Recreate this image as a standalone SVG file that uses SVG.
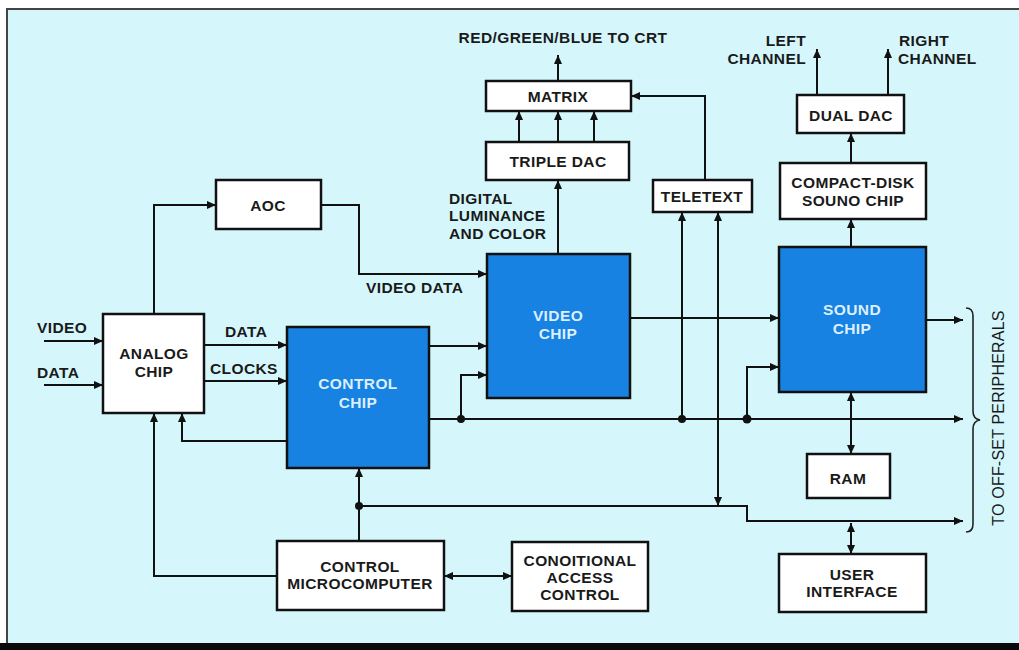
<svg xmlns="http://www.w3.org/2000/svg" width="1019" height="650" viewBox="0 0 1019 650">
<defs>
<marker id="ah" viewBox="0 0 9 8" refX="9" refY="4" markerWidth="9" markerHeight="8" markerUnits="userSpaceOnUse" orient="auto-start-reverse"><path d="M0,0 L9,4 L0,8 z" fill="#111"/></marker>
<style>
.t{font-family:"Liberation Sans",Arial,sans-serif;font-weight:bold;font-size:15.5px;fill:#1a1a1a;letter-spacing:0.4px}
.c{text-anchor:middle}
.w{fill:#dcefff}
.box{fill:#fff;stroke:#111;stroke-width:2.5}
.chip{fill:#1782e2;stroke:#111;stroke-width:2.5}
.ln{fill:none;stroke:#111;stroke-width:2}
.a{marker-end:url(#ah)}
.b{marker-start:url(#ah);marker-end:url(#ah)}
.r{font-family:"Liberation Sans",Arial,sans-serif;font-size:16px;fill:#1a1a1a}
</style>
</defs>
<rect x="0" y="0" width="1019" height="650" fill="#fff"/>
<rect x="7" y="9" width="1012" height="636" fill="#d5f7fc"/>
<path d="M7,645 V9 H1019" fill="none" stroke="#444" stroke-width="2"/>
<rect x="0" y="643" width="1019" height="7" fill="#0a0a0a"/>

<g id="connectors">
<path class="ln a" d="M44,341 H103"/>
<path class="ln a" d="M44,385 H103"/>
<path class="ln a" d="M154,314 V205 H216"/>
<path class="ln a" d="M321,205 H359 V274 H487"/>
<path class="ln a" d="M204,345 H287"/>
<path class="ln a" d="M204,381 H287"/>
<path class="ln a" d="M287,441 H182 V413"/>
<path class="ln a" d="M277,576 H154 V413"/>
<path class="ln a" d="M429,346 H487"/>
<path class="ln a" d="M429,419 H963"/>
<path class="ln a" d="M461,419 V375 H487"/>
<path class="ln a" d="M682,419 V212"/>
<path class="ln b" d="M718,212 V506"/>
<path class="ln a" d="M747,419 V367 H779"/>
<path class="ln a" d="M359,541 V468"/>
<path class="ln a" d="M359,506 H747 V521 H963"/>
<path class="ln a" d="M705,180 V96 H631"/>
<path class="ln a" d="M630,318 H779"/>
<path class="ln a" d="M926,320 H963"/>
<path class="ln b" d="M851,392 V454"/>
<path class="ln b" d="M851,523 V554"/>
<path class="ln b" d="M444,576 H512"/>
<path class="ln a" d="M558,253 V180"/>
<path class="ln a" d="M519,142 V111"/>
<path class="ln a" d="M558,142 V111"/>
<path class="ln a" d="M594,142 V111"/>
<path class="ln a" d="M558,80 V55"/>
<path class="ln a" d="M817,95 V49"/>
<path class="ln a" d="M888,95 V49"/>
<path class="ln a" d="M851,163 V133"/>
<path class="ln a" d="M851,247 V219"/>
<circle cx="461" cy="419" r="4" fill="#111"/>
<circle cx="682" cy="419" r="4" fill="#111"/>
<circle cx="747" cy="419" r="4.5" fill="#111"/>
<circle cx="359" cy="506" r="4" fill="#111"/>
<path d="M966,308 Q973,308 973,316 V411 Q973,419 980,420 Q973,421 973,429 V524 Q973,532 966,532" fill="none" stroke="#222" stroke-width="1.6"/>
</g>

<g id="labels">
<text class="t" x="37" y="333">VIDEO</text>
<text class="t" x="37" y="378">DATA</text>
<text class="t" x="225" y="337">DATA</text>
<text class="t" x="210" y="374">CLOCKS</text>
<text class="t" x="366" y="293">VIDEO DATA</text>
<text class="t" x="449" y="204">DIGITAL</text>
<text class="t" x="449" y="221">LUMINANCE</text>
<text class="t" x="449" y="239">AND COLOR</text>
<text class="t c" x="563" y="43">RED/GREEN/BLUE TO CRT</text>
<text class="t" x="806" y="46" text-anchor="end">LEFT</text>
<text class="t" x="806" y="64" text-anchor="end">CHANNEL</text>
<text class="t" x="899" y="46">RIGHT</text>
<text class="t" x="898" y="64">CHANNEL</text>
<text class="r" transform="translate(1004,418) rotate(-90)" text-anchor="middle" letter-spacing="0.2">TO OFF-SET PERIPHERALS</text>
</g>

<g id="analog"><rect class="box" x="103" y="314" width="101" height="99"/><text class="t c" x="154" y="359">ANALOG</text><text class="t c" x="154" y="377">CHIP</text></g>
<g id="aoc"><rect class="box" x="216" y="180" width="105" height="49"/><text class="t c" x="268" y="211">AOC</text></g>
<g id="control-chip"><rect class="chip" x="287" y="327" width="142" height="141"/><text class="t c w" x="358" y="389">CONTROL</text><text class="t c w" x="358" y="408">CHIP</text></g>
<g id="video-chip"><rect class="chip" x="487" y="254" width="143" height="144"/><text class="t c w" x="558" y="321">VIDEO</text><text class="t c w" x="558" y="339">CHIP</text></g>
<g id="matrix"><rect class="box" x="486" y="81" width="145" height="30"/><text class="t c" x="558" y="102">MATRIX</text></g>
<g id="triple-dac"><rect class="box" x="486" y="142" width="143" height="38"/><text class="t c" x="558" y="167">TRIPLE DAC</text></g>
<g id="teletext"><rect class="box" x="653" y="180" width="99" height="32"/><text class="t c" x="702" y="202">TELETEXT</text></g>
<g id="dual-dac"><rect class="box" x="797" y="95" width="107" height="38"/><text class="t c" x="851" y="121">DUAL DAC</text></g>
<g id="compact-disk"><rect class="box" x="780" y="163" width="146" height="56"/><text class="t c" x="853" y="188">COMPACT-DISK</text><text class="t c" x="853" y="206">SOUNO CHIP</text></g>
<g id="sound-chip"><rect class="chip" x="779" y="247" width="147" height="145"/><text class="t c w" x="852" y="315">SOUND</text><text class="t c w" x="852" y="334">CHIP</text></g>
<g id="ram"><rect class="box" x="807" y="454" width="83" height="44"/><text class="t c" x="848" y="484">RAM</text></g>
<g id="user-interface"><rect class="box" x="779" y="554" width="147" height="58"/><text class="t c" x="852" y="580">USER</text><text class="t c" x="852" y="597">INTERFACE</text></g>
<g id="control-micro"><rect class="box" x="277" y="541" width="167" height="69"/><text class="t c" x="360" y="572">CONTROL</text><text class="t c" x="360" y="589">MICROCOMPUTER</text></g>
<g id="conditional"><rect class="box" x="512" y="542" width="136" height="69"/><text class="t c" x="580" y="566">CONOITIONAL</text><text class="t c" x="580" y="583">ACCESS</text><text class="t c" x="580" y="600">CONTROL</text></g>
</svg>
